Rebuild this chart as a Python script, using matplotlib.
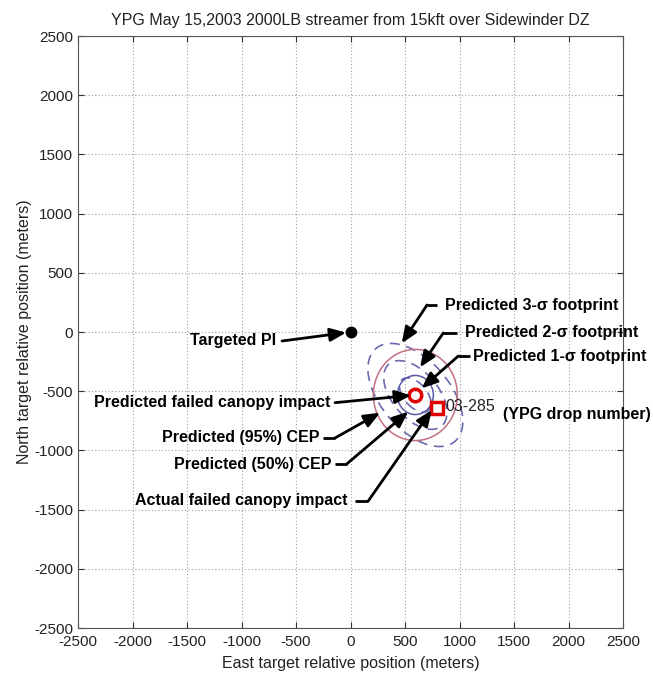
import numpy as np
import matplotlib
matplotlib.use("Agg")
import matplotlib.pyplot as plt
from matplotlib.patches import Ellipse

plt.rcParams["font.family"] = ["Liberation Sans", "DejaVu Sans"]
plt.rcParams["axes.unicode_minus"] = False

# positions in meters (east, north)
target_pi = (0, 0)
predicted_impact = (595, -532)
actual_impact = (790, -638)

# sigma footprints: (sigma, semi-major, semi-minor), tilt in degrees
sigma_levels = [1, 2, 3]
sigma_major = [178, 357, 535]
sigma_minor = [102, 203, 305]
sigma_tilt = -45

# CEP radii (m)
cep50_radius = 165
cep95_radius = 385

ticks = [-2500, -2000, -1500, -1000, -500, 0, 500, 1000, 1500, 2000, 2500]

fig = plt.figure(figsize=(6.53, 6.75), dpi=100)
ax = fig.add_axes([78 / 653, 47 / 675, 545 / 653, 592 / 675])

ax.set_xlim(-2500, 2500)
ax.set_ylim(-2500, 2500)
ax.set_xticks(ticks)
ax.set_yticks(ticks)
ax.grid(True, ls=(0, (1, 2)), color="#a0a0a0", lw=0.8)
ax.set_axisbelow(True)
ax.tick_params(direction="in", length=4, top=True, right=True,
               labelsize=11, pad=3.5, colors="#303030", labelcolor="#222222")
ax.tick_params(axis="x", pad=5)
for spine in ax.spines.values():
    spine.set_color("#555555")
    spine.set_linewidth(0.8)

# sigma footprints
for s, a, b in zip(sigma_levels, sigma_major, sigma_minor):
    ax.add_patch(Ellipse(predicted_impact, 2 * a, 2 * b, angle=sigma_tilt,
                         fill=False, ec="#6a6ab0", lw=1.2, ls=(0, (6, 4))))

# CEP circles
ax.add_patch(Ellipse(predicted_impact, 2 * cep95_radius, 2 * cep95_radius,
                     fill=False, ec="#c27080", lw=1.1))
ax.add_patch(Ellipse(predicted_impact, 2 * cep50_radius, 2 * cep50_radius,
                     fill=False, ec="#5a5aa8", lw=1.1))

ax.plot(*target_pi, "o", color="black", ms=7.5)
ax.plot(*predicted_impact, "o", mfc="none", mec="#e00000", mew=2.5, ms=9)
ax.plot(*actual_impact, "s", mfc="none", mec="#e00000", mew=2.5, ms=8.5)

ax.text(867, -633, "03-285", fontsize=11.5, va="center", ha="left", color="#222222")
ax.text(1399, -693, "(YPG drop number)", fontsize=11.5, fontweight="bold",
        va="center", ha="left", clip_on=False)

# annotations: text, text anchor, ha, leader start x, elbow x (or None), arrow target
notes = [
    ("Targeted PI", (-683, -76), "right", -628, None, (-40, -5)),
    ("Predicted 3-\u03c3 footprint", (867, 228), "left", 794, 702, (470, -95)),
    ("Predicted 2-\u03c3 footprint", (1050, -8), "left", 974, 851, (638, -298)),
    ("Predicted 1-\u03c3 footprint", (1123, -203), "left", 1096, 989, (653, -476)),
    ("Predicted failed canopy impact", (-188, -597), "right", -142, None, (555, -535)),
    ("Predicted (95%) CEP", (-280, -895), "right", -250, -142, (271, -682)),
    ("Predicted (50%) CEP", (-172, -1115), "right", -142, -35, (530, -673)),
    ("Actual failed canopy impact", (-23, -1427), "right", 41, 163, (745, -659)),
]
arrow = dict(arrowstyle="-|>,head_length=0.6,head_width=0.25", color="black",
             lw=2, mutation_scale=16, shrinkA=0, shrinkB=0)
for label, (tx, ty), ha, x0, xe, tgt in notes:
    ax.text(tx, ty, label, fontsize=11.5, fontweight="bold", ha=ha, va="center")
    if xe is None:
        ax.annotate("", xy=tgt, xytext=(x0, ty), arrowprops=arrow)
    else:
        ax.plot([x0, xe], [ty, ty], color="black", lw=2, solid_capstyle="butt")
        ax.annotate("", xy=tgt, xytext=(xe, ty), arrowprops=arrow)

ax.set_title("YPG May 15,2003 2000LB streamer from 15kft over Sidewinder DZ",
             fontsize=11.5, pad=8, color="#222222")
ax.set_xlabel("East target relative position (meters)", fontsize=11.5, color="#222222")
ax.set_ylabel("North target relative position (meters)", fontsize=11.5, color="#222222")
ax.xaxis.set_label_coords(0.5, -0.047)
ax.yaxis.set_label_coords(-0.085, 0.5)

fig.savefig("out.png", dpi=100)
